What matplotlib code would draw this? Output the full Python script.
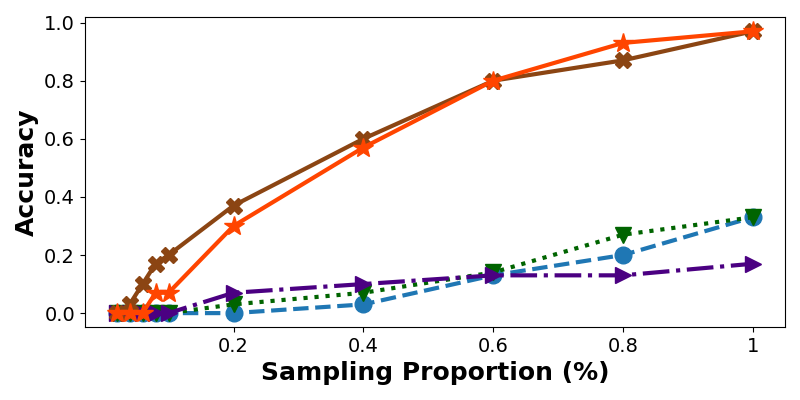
import matplotlib
matplotlib.use("Agg")
import matplotlib.pyplot as plt

proportion = [0.02, 0.04, 0.06, 0.08, 0.1, 0.2, 0.4, 0.6, 0.8, 1.0]
acc_circle = [0, 0, 0, 0, 0, 0.0, 0.03, 0.13, 0.20, 0.33]
acc_tri_down = [0, 0, 0, 0, 0, 0.03, 0.07, 0.14, 0.27, 0.33]
acc_tri_right = [0, 0, 0, 0, 0, 0.07, 0.10, 0.13, 0.13, 0.17]
acc_x = [0, 0.03, 0.10, 0.17, 0.20, 0.37, 0.60, 0.80, 0.87, 0.97]
acc_star = [0, 0, 0, 0.07, 0.07, 0.30, 0.57, 0.80, 0.93, 0.97]

xticks = [0.2, 0.4, 0.6, 0.8, 1.0]
xtick_labels = ["0.2", "0.4", "0.6", "0.8", "1"]

fig, ax = plt.subplots(figsize=(8, 4), dpi=100)

ax.plot(proportion, acc_circle, color="#1f77b4", ls="--", lw=3, marker="o", ms=12)
ax.plot(proportion, acc_tri_down, color="darkgreen", ls=":", lw=3, marker="v", ms=12)
ax.plot(proportion, acc_tri_right, color="indigo", ls="-.", lw=3, marker=">", ms=12)
ax.plot(proportion, acc_x, color="saddlebrown", ls="-", lw=3, marker="X", ms=12)
ax.plot(proportion, acc_star, color="orangered", ls="-", lw=3, marker="*", ms=15)

ax.set_xticks(xticks)
ax.set_xticklabels(xtick_labels)
ax.tick_params(labelsize=14)
ax.set_xlabel("Sampling Proportion (%)", fontsize=18, fontweight="bold")
ax.set_ylabel("Accuracy", fontsize=18, fontweight="bold")

fig.subplots_adjust(left=0.106, right=0.981, top=0.957, bottom=0.182)
fig.savefig("out.png")
